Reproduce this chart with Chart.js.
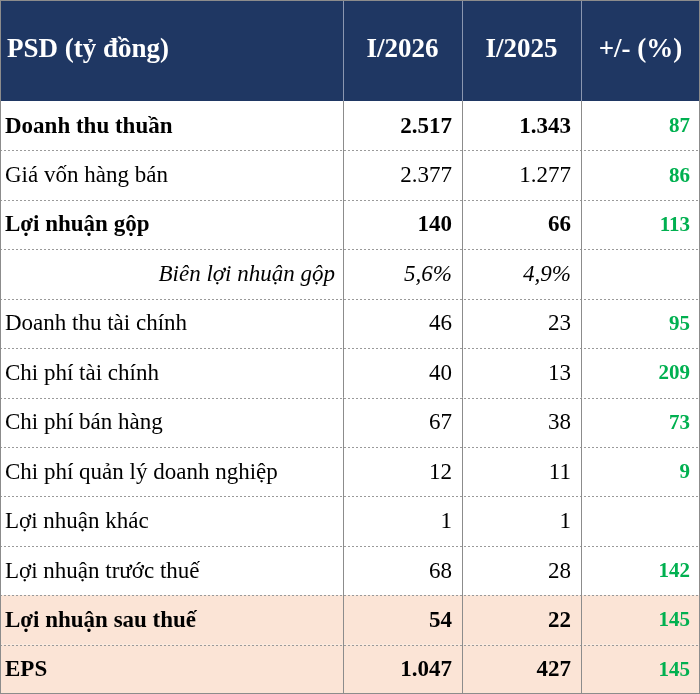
<!DOCTYPE html>
<html>
<head>
<meta charset="utf-8">
<script src="https://cdn.jsdelivr.net/npm/chart.js@4/dist/chart.umd.min.js"></script>
<style>
  html, body { margin: 0; padding: 0; background: #fff; }
  .wrap { width: 700px; height: 694px; position: relative; }
</style>
</head>
<body>
<div class="wrap"><canvas id="myChart"></canvas></div>
<script>
const headers = ["PSD (tỷ đồng)", "I/2026", "I/2025", "+/- (%)"];
const rowLabels = [
    "Doanh thu thuần", "Giá vốn hàng bán", "Lợi nhuận gộp", "Biên lợi nhuận gộp",
    "Doanh thu tài chính", "Chi phí tài chính", "Chi phí bán hàng",
    "Chi phí quản lý doanh nghiệp", "Lợi nhuận khác", "Lợi nhuận trước thuế",
    "Lợi nhuận sau thuế", "EPS"
];
const q1_2026 = ["2.517", "2.377", "140", "5,6%", "46", "40", "67", "12", "1", "68", "54", "1.047"];
const q1_2025 = ["1.343", "1.277", "66", "4,9%", "23", "13", "38", "11", "1", "28", "22", "427"];
const change = ["87", "86", "113", "", "95", "209", "73", "9", "", "142", "145", "145"];
const boldRows = [0, 2, 10, 11];
const italicRows = [3];
const shadedRows = [10, 11];

const colEdges = [0, 343, 462, 581, 700];
const headerHeight = 101;
const serif = '"Liberation Serif", "Times New Roman", serif';

const tablePlugin = {
    id: "tableDraw",
    beforeDraw: (chart) => {
        const ctx = chart.ctx;
        const yScale = chart.scales.y;
        const W = chart.width;
        const top = chart.chartArea.top;
        const bottom = chart.chartArea.bottom;
        const rowH = (bottom - top) / rowLabels.length;

        ctx.save();
        ctx.fillStyle = "#fff";
        ctx.fillRect(0, 0, W, chart.height);

        // header
        ctx.fillStyle = "#1f3763";
        ctx.fillRect(0, 0, W, top);
        ctx.fillStyle = "#fff";
        ctx.font = "bold 27px " + serif;
        ctx.textBaseline = "middle";
        ctx.textAlign = "left";
        ctx.fillText(headers[0], 7, top / 2);
        ctx.textAlign = "center";
        for (let c = 1; c < 4; c++) {
            ctx.fillText(headers[c], (colEdges[c] + colEdges[c + 1]) / 2, top / 2);
        }
        ctx.strokeStyle = "#8a96b0";
        ctx.lineWidth = 1;
        for (let c = 1; c < 4; c++) {
            ctx.beginPath();
            ctx.moveTo(colEdges[c] + 0.5, 0);
            ctx.lineTo(colEdges[c] + 0.5, top);
            ctx.stroke();
        }

        // rows
        rowLabels.forEach((label, i) => {
            const yc = yScale.getPixelForValue(i);
            const y0 = yc - rowH / 2;
            if (shadedRows.includes(i)) {
                ctx.fillStyle = "#fbe4d6";
                ctx.fillRect(0, y0, W, rowH);
            }
            const bold = boldRows.includes(i);
            const italic = italicRows.includes(i);
            const style = (italic ? "italic " : "") + (bold ? "bold " : "");
            ctx.font = style + "23px " + serif;
            ctx.fillStyle = "#000";
            if (italic) {
                ctx.textAlign = "right";
                ctx.fillText(label, 335, yc + 1);
            } else {
                ctx.textAlign = "left";
                ctx.fillText(label, 5, yc + 1);
            }
            ctx.textAlign = "right";
            ctx.fillText(q1_2026[i], colEdges[2] - 10, yc + 1);
            ctx.fillText(q1_2025[i], colEdges[3] - 10, yc + 1);
            ctx.font = "bold 21px " + serif;
            ctx.fillStyle = "#00b050";
            ctx.fillText(change[i], colEdges[4] - 10, yc + 1);

            if (i > 0) {
                ctx.strokeStyle = "#9a9a9a";
                ctx.setLineDash([2, 2]);
                ctx.beginPath();
                ctx.moveTo(0, Math.round(y0) + 0.5);
                ctx.lineTo(W, Math.round(y0) + 0.5);
                ctx.stroke();
                ctx.setLineDash([]);
            }
        });

        // vertical grid + border
        ctx.strokeStyle = "#8c8c8c";
        ctx.lineWidth = 1;
        for (let c = 1; c < 4; c++) {
            ctx.beginPath();
            ctx.moveTo(colEdges[c] + 0.5, top);
            ctx.lineTo(colEdges[c] + 0.5, bottom);
            ctx.stroke();
        }
        ctx.strokeRect(0.5, 0.5, W - 1, chart.height - 1);
        ctx.restore();
    }
};

const myChart = new Chart(document.getElementById("myChart").getContext("2d"), {
    type: "bar",
    data: {
        labels: rowLabels,
        datasets: [{ data: rowLabels.map(() => 0), backgroundColor: "transparent" }]
    },
    options: {
        indexAxis: "y",
        responsive: true,
        maintainAspectRatio: false,
        animation: false,
        layout: { padding: { top: headerHeight, left: 0, right: 0, bottom: 0 } },
        plugins: { legend: { display: false }, tooltip: { enabled: false } },
        scales: {
            x: { display: false, min: 0, max: 1 },
            y: { display: false, offset: true }
        }
    },
    plugins: [tablePlugin]
});
</script>
</body>
</html>
